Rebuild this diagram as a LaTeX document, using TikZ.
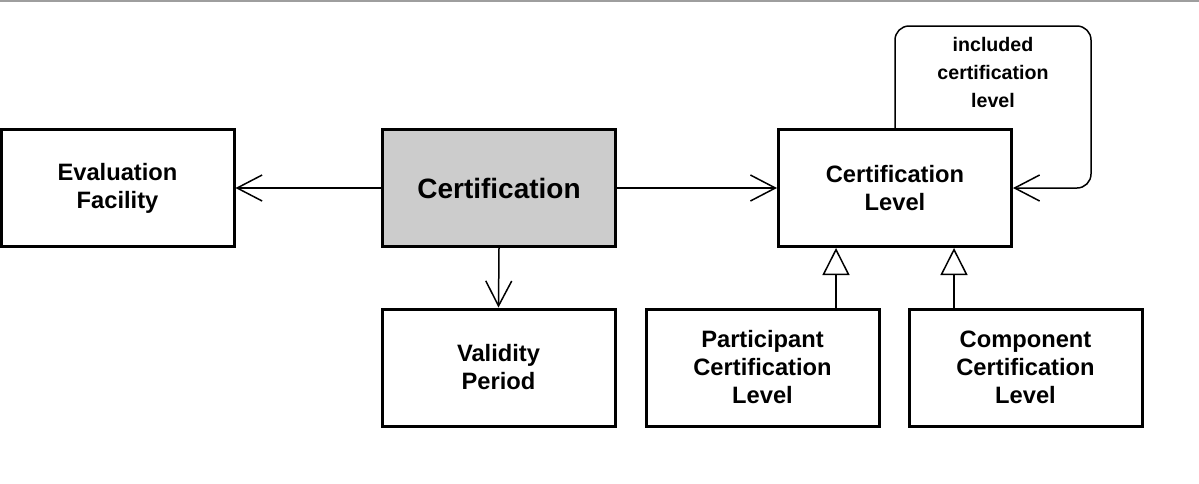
\documentclass[tikz,border=0pt]{standalone}
\usepackage{fontspec}
\setmainfont{Liberation Sans}
\usetikzlibrary{arrows.meta,calc,positioning}

\begin{document}
\begin{tikzpicture}[x=1pt, y=-1pt,
		entity/.style = {draw=black, line width=3pt, align=center, inner sep=2pt, minimum width=233pt, minimum height=117pt, font=\fontsize{23.7}{28}\selectfont\bfseries},
		core/.style = {entity, fill={rgb,255:red,204;green,204;blue,204}, font=\fontsize{28}{30}\selectfont\bfseries},
		assoc/.style = {line width=1.5pt, -{Straight Barb[length=25pt, width=26pt]}},
		inherit/.style = {line width=1.5pt, -{Triangle[open, fill=white, length=27pt, width=27pt]}},
		lbl/.style = {align=center, font=\fontsize{19.6}{28}\selectfont\bfseries}]
	\useasboundingbox (0,0) rectangle (1199,483);
	% top rule
	\draw[line width=1.5pt, black!38] (0,0.75) -- (1199,0.75);
	% classes
	\node [entity] (ef) at (117.5,188) {Evaluation\\Facility};
	\node [core] (cert) at (499,188) {Certification};
	\node [entity] (cl) at (895,188) {Certification\\Level};
	\node [entity] (vp) at (498.5,367.5) {Validity\\Period};
	\node [entity] (pcl) at (762.5,367.5) {Participant\\Certification\\Level};
	\node [entity] (ccl) at (1025.5,367.5) {Component\\Certification\\Level};
	% associations
	\draw [assoc] (cert.west) -- (ef.east);
	\draw [assoc] (cert.east) -- (cl.west);
	\draw [assoc] (cert.south) -- (vp.north);
	\draw [assoc, rounded corners=14pt] (cl.north) |- (1091,26) |- (cl.east);
	\node [lbl] (incl) at (993,72) {included\\certification\\level};
	% generalisations
	\coordinate (ptip) at ($(cl.south west)!.25!(cl.south east)$);
	\coordinate (ctip) at ($(cl.south west)!.75!(cl.south east)$);
	\draw [inherit] (pcl.north -| ptip) -- (ptip);
	\draw [inherit] (ccl.north -| ctip) -- (ctip);
\end{tikzpicture}
\end{document}
